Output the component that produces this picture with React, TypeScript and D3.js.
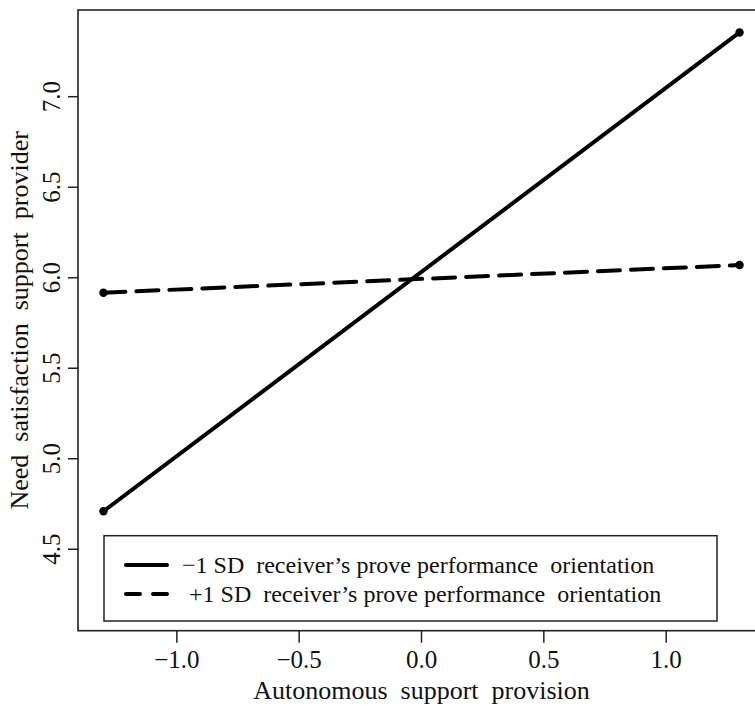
import React from 'react';
import * as d3 from 'd3';

// values
const xPoints = [-1.3, 1.3];
const lowOrientation = [4.71, 7.355];
const highOrientation = [5.917, 6.07];

const xTicks = [-1.0, -0.5, 0.0, 0.5, 1.0];
const yTicks = [4.5, 5.0, 5.5, 6.0, 6.5, 7.0];

const legendLabels = [
  '\u22121 SD  receiver\u2019s prove performance  orientation',
  '+1 SD  receiver\u2019s prove performance  orientation',
];

const width = 755;
const height = 707;
const font = '"Liberation Serif", "Times New Roman", serif';

export default function App() {
  const frame = { left: 78, right: 765, top: 10, bottom: 630.7 };

  const xScale = d3.scaleLinear().domain([-1.404, 1.404]).range([frame.left, frame.right]);
  const yScale = d3.scaleLinear().domain([4.05, 7.479]).range([frame.bottom, frame.top]);

  const line = d3
    .line<[number, number]>()
    .x((d) => xScale(d[0]))
    .y((d) => yScale(d[1]));

  const series = [
    { values: lowOrientation, dash: undefined as string | undefined },
    { values: highOrientation, dash: '22 11' },
  ];

  const fmt = (v: number) => d3.format('.1f')(v).replace('-', '\u2212');

  return (
    <svg
      width={width}
      height={height}
      style={{ position: 'absolute', left: 0, top: 0, background: '#fff' }}
      fontFamily={font}
    >
      {/* series lines */}
      {series.map((s, i) => {
        const pts = xPoints.map((x, j) => [x, s.values[j]] as [number, number]);
        return (
          <g key={i}>
            <path
              d={line(pts) as string}
              fill="none"
              stroke="#000"
              strokeWidth={4}
              strokeLinecap="round"
              strokeDasharray={s.dash}
            />
            {pts.map((p, j) => (
              <circle key={j} cx={xScale(p[0])} cy={yScale(p[1])} r={4.2} fill="#000" />
            ))}
          </g>
        );
      })}

      {/* plot frame */}
      <rect
        x={frame.left}
        y={frame.top}
        width={frame.right - frame.left}
        height={frame.bottom - frame.top}
        fill="none"
        stroke="#222"
        strokeWidth={1.6}
      />

      {/* x axis */}
      {xTicks.map((t) => (
        <g key={t} transform={`translate(${xScale(t)},0)`}>
          <line y1={frame.bottom} y2={frame.bottom + 12} stroke="#222" strokeWidth={1.5} />
          <text y={668} textAnchor="middle" fontSize={25} fill="#111">
            {fmt(t)}
          </text>
        </g>
      ))}
      <text x={xScale(0)} y={699} textAnchor="middle" fontSize={26} fill="#111" style={{ whiteSpace: 'pre' }}>
        {'Autonomous  support  provision'}
      </text>

      {/* y axis */}
      {yTicks.map((t) => (
        <g key={t} transform={`translate(0,${yScale(t)})`}>
          <line x1={frame.left - 10} x2={frame.left} stroke="#222" strokeWidth={1.5} />
          <text transform="translate(60,0) rotate(-90)" textAnchor="middle" fontSize={25} fill="#111">
            {fmt(t)}
          </text>
        </g>
      ))}
      <text
        transform={`translate(28,${(frame.top + frame.bottom) / 2}) rotate(-90)`}
        textAnchor="middle"
        fontSize={26}
        fill="#111"
        style={{ whiteSpace: 'pre' }}
      >
        {'Need  satisfaction  support  provider'}
      </text>

      {/* legend */}
      <rect x={104} y={535.7} width={613} height={85.3} fill="#fff" stroke="#222" strokeWidth={1.5} />
      {legendLabels.map((lab, i) => (
        <g key={i} transform={`translate(0,${565 + i * 29})`}>
          <line
            x1={126}
            x2={167}
            stroke="#000"
            strokeWidth={4}
            strokeLinecap="round"
            strokeDasharray={i === 1 ? '14 13' : undefined}
          />
          <text x={i === 0 ? 182 : 189} y={8} fontSize={24} fill="#111" style={{ whiteSpace: 'pre' }}>
            {lab}
          </text>
        </g>
      ))}
    </svg>
  );
}
